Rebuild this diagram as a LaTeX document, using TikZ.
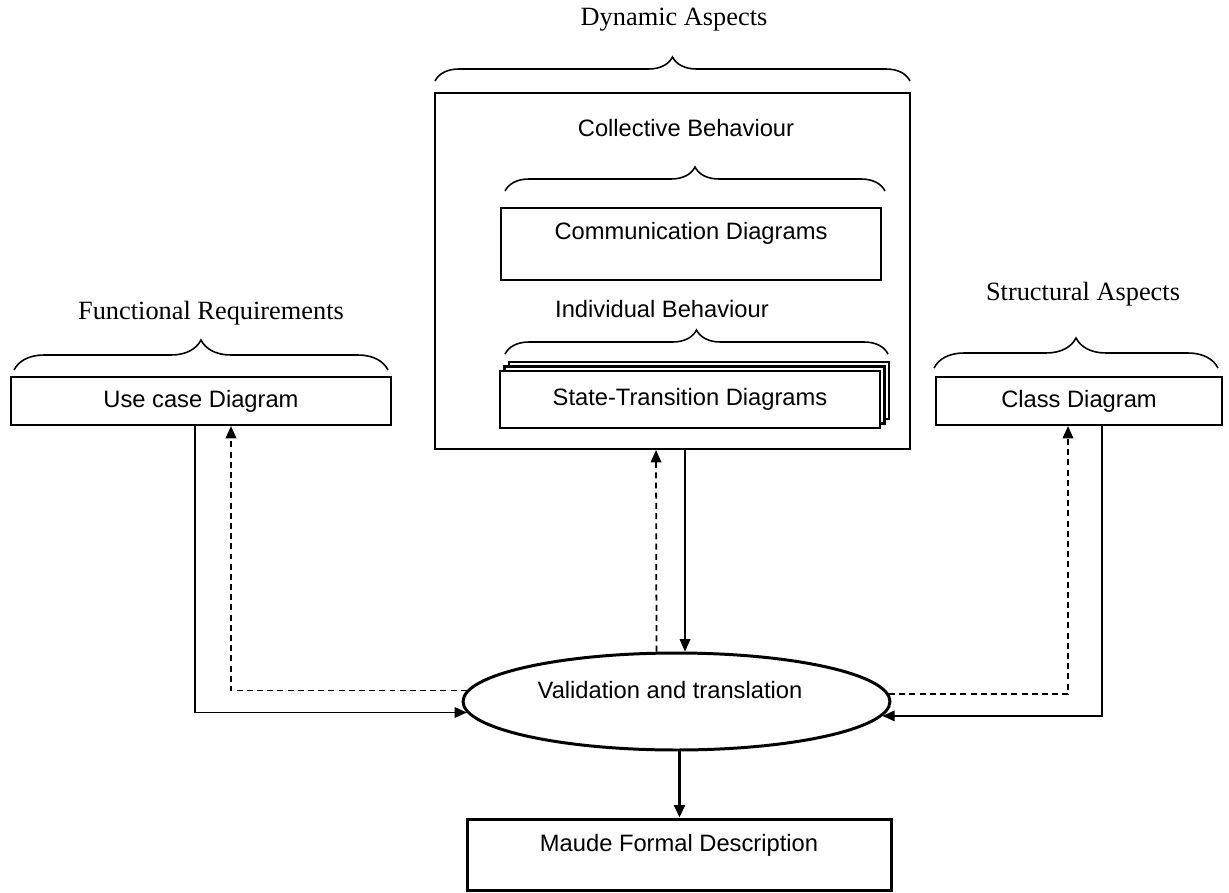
\documentclass[tikz,border=0pt]{standalone}
\usepackage{fontspec}
\setmainfont{Liberation Serif}
\newfontfamily\arialfont{Liberation Sans}
\usetikzlibrary{arrows.meta, shapes.geometric, decorations.pathreplacing, calc}

\begin{document}
\begin{tikzpicture}[x=0.02cm, y=-0.02cm,
  box/.style={draw, line width=1.2pt, inner sep=0pt, fill=white},
  lbl/.style={font=\fontsize{15}{18}\selectfont},
  txt/.style={font=\arialfont\fontsize{13.5}{16}\selectfont},
  brc/.style={decorate, decoration={brace, amplitude=#1}, line width=0.9pt},
  conn/.style={line width=0.9pt, -{Triangle[length=7pt, width=6pt]}},
  back/.style={conn, line width=1pt, dash pattern=on 3.4pt off 2.4pt}]
\useasboundingbox (0,0) rectangle (1229,892);

\node[lbl] (dynlbl) at (674,20) {Dynamic Aspects};
\draw[brc=0.48cm] (435,81) -- (910,81);
\node[box, fill=none, minimum width=9.5cm, minimum height=7.12cm] (dyn) at (672.5,271) {};

\node[txt] (collbl) at (686,128) {Collective Behaviour};
\draw[brc=0.48cm] (505,191) -- (885,191);
\node[box, minimum width=7.6cm, minimum height=1.44cm] (comm) at (691,244) {};
\node[txt] (commtxt) at (691,233) {Communication Diagrams};

\node[txt] (indlbl) at (662,309) {Individual Behaviour};
\draw[brc=0.48cm] (505,354) -- (888,354);
\node[box, minimum width=7.6cm, minimum height=1.14cm] (stback) at (699,390.5) {};
\node[box, minimum width=7.6cm, minimum height=1.14cm] (stmid) at (694.5,395) {};
\node[box, txt, minimum width=7.6cm, minimum height=1.14cm] (state) at (690,399.5) {State-Transition Diagrams};

\node[lbl] (funlbl) at (211,313) {Functional Requirements};
\draw[brc=0.6cm] (14,370) -- (388,370);
\node[box, txt, minimum width=7.6cm, minimum height=0.96cm] (usecase) at (201,401) {Use case Diagram};

\node[lbl] (strlbl) at (1083,294) {Structural Aspects};
\draw[brc=0.6cm] (934,368) -- (1218,368);
\node[box, txt, minimum width=5.72cm, minimum height=0.96cm] (class) at (1079,401) {Class Diagram};

\node[draw, ellipse, line width=1.7pt, inner sep=0pt, minimum width=8.54cm, minimum height=1.94cm] (val) at (676.5,701.5) {};
\node[txt] (valtxt) at (670,690) {Validation and translation};

\node[box, line width=1.7pt, minimum width=8.5cm, minimum height=1.42cm] (maude) at (679.5,854.5) {};
\node[txt] (maudetxt) at (679,845) {Maude Formal Description};

\draw[conn] ($(usecase.south)+(-6,0)$) |- (val.183);
\draw[back] (val.177.4) -| ($(usecase.south)+(30,0)$);
\draw[back] ($(val.north)+(-20,0)$) -- ($(dyn.south)+(-16.5,0)$);
\draw[conn] ($(dyn.south)+(12.5,0)$) -- ($(val.north)+(8.5,0)$);
\draw[back] (val.2.6) -| ($(class.south)+(-11,0)$);
\draw[conn] ($(class.south)+(23,0)$) |- (val.356.3);
\draw[conn, line width=1.7pt] (val.south -| maude.north) -- (maude.north);
\end{tikzpicture}
\end{document}
